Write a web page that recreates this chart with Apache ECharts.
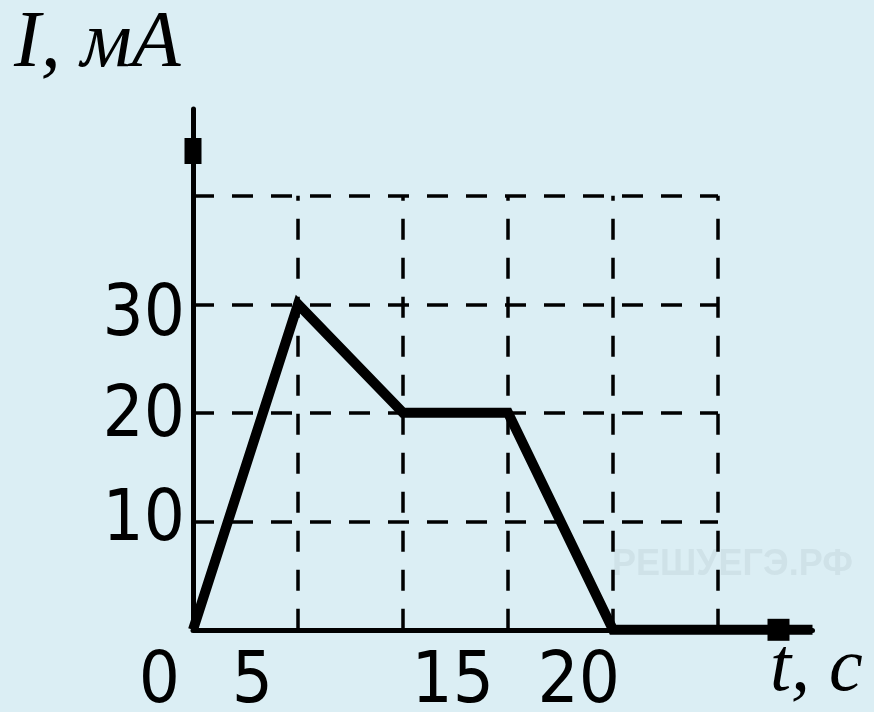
<!DOCTYPE html>
<html>
<head>
<meta charset="utf-8">
<script src="https://cdn.jsdelivr.net/npm/echarts@6/dist/echarts.min.js"></script>
<style>
html,body{margin:0;padding:0;background:#dbeef4;}
#c{width:874px;height:712px;}
</style>
</head>
<body>
<div id="c"></div>
<script>
// data
const times = [0, 5, 10, 15, 20, 29.5];        // t, c
const current = [0, 30, 20, 20, 0, 0];         // I, mA
const xLabelValues = [0, 5, 15, 20];           // shown tick labels on t axis
const yLabelValues = [10, 20, 30];             // shown tick labels on I axis
const gridXValues = [5, 10, 15, 20, 25];       // dashed vertical lines
const gridYValues = [10, 20, 30, 40];          // dashed horizontal lines
const gridXMax = 25;
const gridYMax = 40;
const xAxisMax = 29.5;
const yAxisMax = 48;
const yTitle = 'I, мА';
const xTitle = 't, с';
const watermark = 'РЕШУЕГЭ.РФ';

const chart = echarts.init(document.getElementById('c'), null, {renderer: 'canvas'});

const labelFont = '"Liberation Sans Narrow", "DejaVu Sans Condensed", "Liberation Sans", sans-serif';
const xShift = {0: 13, 5: 25, 15: 14, 20: -7};
const yShift = {10: 0, 20: 9, 30: 24};
const xRich = {};
xLabelValues.forEach(v => {
  xRich['s' + v] = {
    fontFamily: labelFont, fontSize: 72, color: '#000',
    padding: [0, xShift[v], 0, 0], lineHeight: 72
  };
});
const yRich = {};
yLabelValues.forEach(v => {
  yRich['s' + v] = {
    fontFamily: labelFont, fontSize: 72, color: '#000',
    padding: [yShift[v], 0, 0, 0], lineHeight: 72
  };
});

const markData = [];
gridXValues.forEach(x => markData.push([{coord: [x, 0]}, {coord: [x, gridYMax]}]));
gridYValues.forEach(y => markData.push([{coord: [0, y]}, {coord: [gridXMax, y]}]));

const pts = times.map((t, i) => [t, current[i]]);

chart.setOption({
  backgroundColor: '#dbeef4',
  animation: false,
  grid: {left: 193, top: 109, width: 21 * xAxisMax, height: 10.85 * yAxisMax,
         containLabel: false, outerBoundsMode: 'none'},
  xAxis: {
    type: 'value', min: 0, max: xAxisMax, interval: 5,
    splitLine: {show: false},
    axisTick: {show: false},
    axisLine: {
      show: true, onZero: false,
      lineStyle: {color: '#000', width: 5},
      symbol: ['none', 'rect'], symbolSize: [22, 22], symbolOffset: [0, -34]
    },
    axisLabel: {
      margin: 17,
      align: 'right',
      showMinLabel: true,
      hideOverlap: false,
      formatter: v => xLabelValues.indexOf(v) >= 0 ? '{s' + v + '|' + v + '}' : '',
      rich: xRich
    }
  },
  yAxis: {
    type: 'value', min: 0, max: yAxisMax, interval: 10,
    splitLine: {show: false},
    axisTick: {show: false},
    axisLine: {
      show: true, onZero: false,
      lineStyle: {color: '#000', width: 5},
      symbol: ['none', 'rect'], symbolSize: [17, 26], symbolOffset: [0, -42]
    },
    axisLabel: {
      margin: 8,
      hideOverlap: false,
      formatter: v => yLabelValues.indexOf(v) >= 0 ? '{s' + v + '|' + v + '}' : '',
      rich: yRich
    }
  },
  series: [{
    type: 'line',
    data: pts,
    clip: false,
    symbol: 'none',
    lineStyle: {color: '#000', width: 10, join: 'miter'},
    z: 5,
    markLine: {
      silent: true,
      symbol: ['none', 'none'],
      label: {show: false},
      lineStyle: {color: '#000', width: 3.5, type: [21, 18]},
      data: markData,
      z: 3
    }
  }],
  graphic: [
    {type: 'text', left: 14, top: 5, z: 10,
     style: {text: yTitle, font: 'italic 80px "Liberation Serif", serif', fill: '#000'}},
    {type: 'text', left: 770, top: 632, z: 10,
     style: {text: xTitle, font: 'italic 76px "Liberation Serif", serif', fill: '#000'}},
    {type: 'text', left: 612, top: 547, z: 1,
     style: {text: watermark, font: 'bold 36px "Liberation Sans", sans-serif', fill: '#cfe2e8'}}
  ]
});
</script>
</body>
</html>
